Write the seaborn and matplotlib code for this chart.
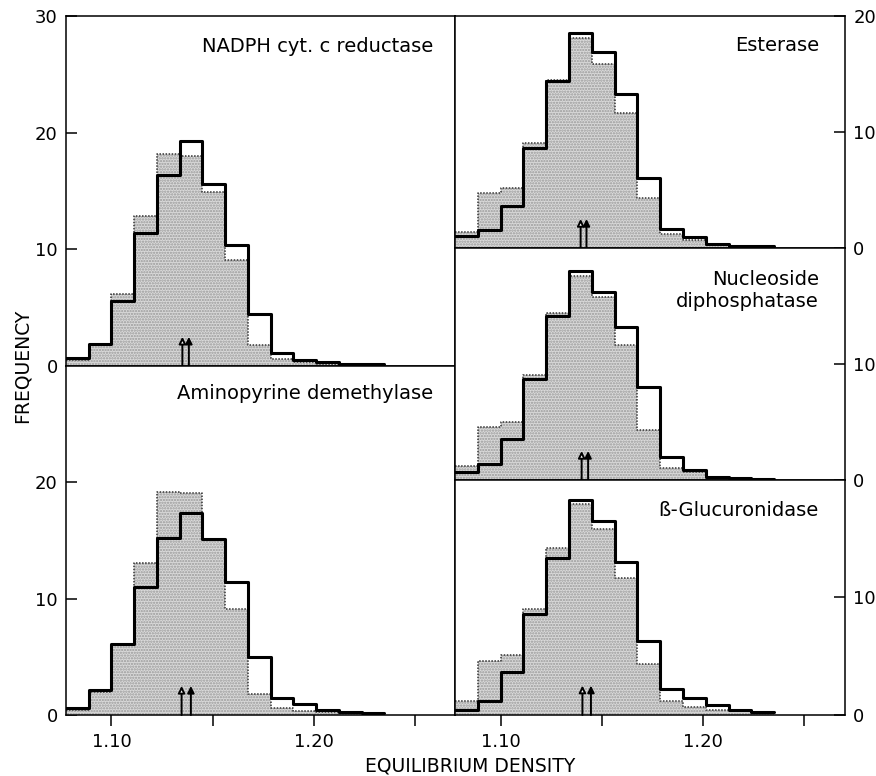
import numpy as np
import pandas as pd
import seaborn as sns
import matplotlib.pyplot as plt

# ---- data ----
bin_edges = [1.0775, 1.08875, 1.1, 1.11125, 1.1225, 1.13375, 1.145, 1.15625,
             1.1675, 1.17875, 1.19, 1.20125, 1.2125, 1.22375, 1.235]

nadph_protein = [0.5, 1.8, 6.2, 12.9, 18.2, 18.0, 14.9, 9.1, 1.8, 0.6, 0.35, 0.2, 0.1, 0.05]
nadph_enzyme  = [0.7, 1.9, 5.6, 11.4, 16.4, 19.3, 15.6, 10.4, 4.5, 1.15, 0.5, 0.35, 0.2, 0.15]
nadph_arrows  = [1.1351, 1.1383]

amino_protein = [0.43, 1.96, 6.05, 13.1, 19.2, 19.1, 15.0, 9.1, 1.8, 0.58, 0.37, 0.23, 0.15, 0.1]
amino_enzyme  = [0.63, 2.16, 6.1, 11.0, 15.2, 17.4, 15.1, 11.4, 5.0, 1.5, 0.92, 0.43, 0.23, 0.2]
amino_arrows  = [1.1347, 1.1393]

ester_protein = [1.38, 4.74, 5.17, 9.05, 14.5, 18.1, 15.9, 11.64, 4.3, 1.2, 0.66, 0.23, 0.1, 0.05]
ester_enzyme  = [1.0, 1.58, 3.6, 8.62, 14.37, 18.5, 16.9, 13.3, 6.0, 1.64, 0.92, 0.34, 0.15, 0.15]
ester_arrows  = [1.1395, 1.1424]

nucl_protein = [1.2, 4.6, 5.03, 9.05, 14.4, 17.6, 15.8, 11.64, 4.3, 1.06, 0.66, 0.23, 0.1, 0.05]
nucl_enzyme  = [0.72, 1.38, 3.5, 8.68, 14.14, 18.0, 16.2, 13.2, 8.0, 2.0, 0.86, 0.29, 0.15, 0.1]
nucl_arrows  = [1.1400, 1.1432]

gluc_protein = [1.22, 4.56, 5.13, 9.0, 14.2, 17.93, 15.8, 11.64, 4.33, 1.22, 0.65, 0.42, 0.31, 0.15]
gluc_enzyme  = [0.42, 1.16, 3.63, 8.58, 13.34, 18.27, 16.5, 13.06, 6.26, 2.2, 1.44, 0.88, 0.42, 0.23]
gluc_arrows  = [1.1404, 1.1446]

titles = ["NADPH cyt. c reductase", "Aminopyrine demethylase", "Esterase",
          "Nucleoside\ndiphosphatase", "ß-Glucuronidase"]
x_ticks = [1.10, 1.15, 1.20, 1.25]
x_ticklabels = ["1.10", "", "1.20", ""]

# ---- style ----
sns.set_theme(style="white")
plt.rcParams["font.family"] = ["DejaVu Sans"]
plt.rcParams["hatch.linewidth"] = 1.1

fig = plt.figure(figsize=(8.76, 7.76), dpi=100)

centers = [(a + b) / 2 for a, b in zip(bin_edges[:-1], bin_edges[1:])]


def draw_panel(ax, protein, enzyme, arrows, title, tx, ty, ymax, yticks,
               side, bottom):
    df = pd.DataFrame({"x": centers, "protein": protein, "enzyme": enzyme})
    n0 = len(ax.collections)
    sns.histplot(data=df, x="x", weights="protein", bins=bin_edges,
                 element="step", fill=True, color="#d8d8d8", alpha=1,
                 linewidth=0, ax=ax)
    for coll in ax.collections[n0:]:
        coll.set_facecolor("#dadada")
        coll.set_edgecolor("#999999")
        coll.set_hatch("......")
        coll.set_linewidth(0.0)
    sns.histplot(data=df, x="x", weights="protein", bins=bin_edges,
                 element="step", fill=False, color="#333333",
                 linewidth=1.1, linestyle=(0, (1, 1)), ax=ax)
    sns.histplot(data=df, x="x", weights="enzyme", bins=bin_edges,
                 element="step", fill=False, color="black",
                 linewidth=2.2, ax=ax)
    # mean-density arrows: open (protein) and filled (enzyme)
    ax.annotate("", xy=(arrows[0], 2.5), xytext=(arrows[0], 0),
                arrowprops=dict(arrowstyle="-|>", fc="white", ec="black",
                                lw=1.4, mutation_scale=10, shrinkA=0, shrinkB=0))
    ax.annotate("", xy=(arrows[1], 2.5), xytext=(arrows[1], 0),
                arrowprops=dict(arrowstyle="-|>", fc="black", ec="black",
                                lw=1.4, mutation_scale=10, shrinkA=0, shrinkB=0))
    ax.set_xlim(bin_edges[0], 1.27)
    ax.set_ylim(0, ymax)
    ax.set_yticks(yticks)
    ax.set_yticklabels([str(t) for t in yticks])
    ax.set_xlabel("")
    ax.set_ylabel("")
    if side == "right":
        ax.yaxis.tick_right()
    ax.tick_params(axis="y", direction="in", length=8, width=1.1,
                   labelsize=13, colors="black", pad=6,
                   left=(side == "left"), right=(side == "right"),
                   labelleft=(side == "left"), labelright=(side == "right"))
    if bottom:
        ax.set_xticks(x_ticks)
        ax.set_xticklabels(x_ticklabels)
        ax.tick_params(axis="x", direction="out", length=8, width=1.1,
                       labelsize=13, colors="black", pad=5, bottom=True)
    else:
        ax.set_xticks([])
    for sp in ax.spines.values():
        sp.set_visible(True)
        sp.set_color("black")
        sp.set_linewidth(1.1)
    ax.text(tx, ty, title, transform=ax.transAxes, ha="right", va="center",
            fontsize=14, color="black", multialignment="right",
            linespacing=1.2)


ax_lt = fig.add_axes([0.07534, 0.52835, 0.44406, 0.45103])
ax_lb = fig.add_axes([0.07534, 0.07861, 0.44406, 0.44974])
ax_rt = fig.add_axes([0.51941, 0.68041, 0.44521, 0.29897])
ax_rm = fig.add_axes([0.51941, 0.38144, 0.44521, 0.29897])
ax_rb = fig.add_axes([0.51941, 0.07861, 0.44521, 0.30284])

draw_panel(ax_lt, nadph_protein, nadph_enzyme, nadph_arrows, titles[0],
           0.943, 0.914, 30, [0, 10, 20, 30], "left", False)
draw_panel(ax_lb, amino_protein, amino_enzyme, amino_arrows, titles[1],
           0.943, 0.920, 30, [0, 10, 20], "left", True)
draw_panel(ax_rt, ester_protein, ester_enzyme, ester_arrows, titles[2],
           0.933, 0.875, 20, [0, 10, 20], "right", False)
draw_panel(ax_rm, nucl_protein, nucl_enzyme, nucl_arrows, titles[3],
           0.933, 0.815, 20, [0, 10], "right", False)
draw_panel(ax_rb, gluc_protein, gluc_enzyme, gluc_arrows, titles[4],
           0.933, 0.872, 20, [0, 10], "right", True)

fig.text(0.025, 0.528, "FREQUENCY", rotation=90, ha="center", va="center",
         fontsize=13.5, color="black")
fig.text(0.5365, 0.0135, "EQUILIBRIUM DENSITY", ha="center", va="center",
         fontsize=13.5, color="black")

fig.savefig("out.png", dpi=100)
